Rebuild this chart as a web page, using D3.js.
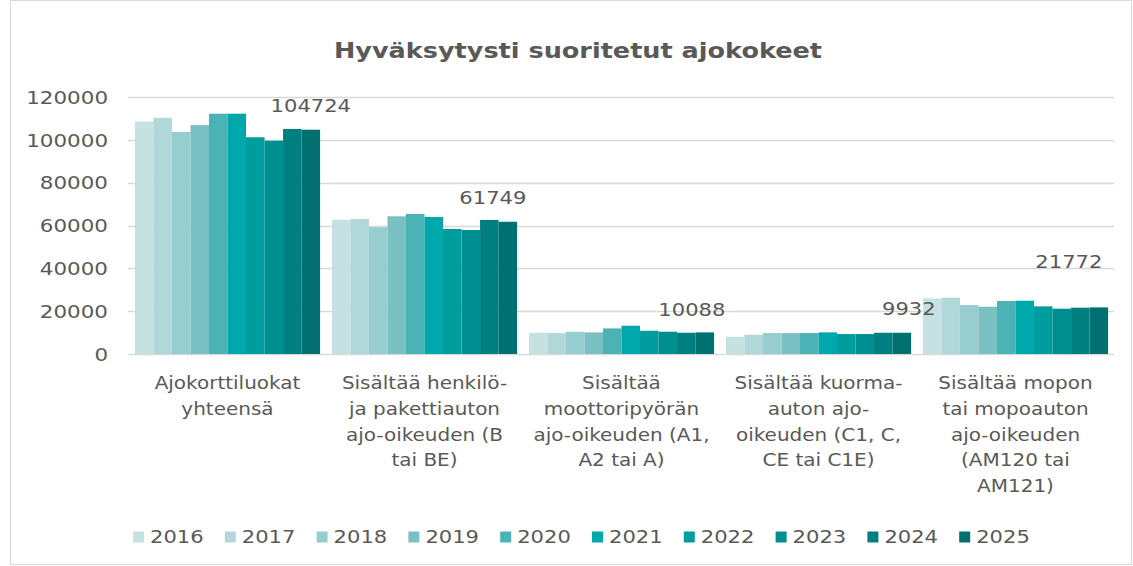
<!DOCTYPE html>
<html>
<head>
<meta charset="utf-8">
<script src="https://cdn.jsdelivr.net/npm/d3@7"></script>
<style>
  body { margin: 0; background: #fff; }
  text { font-family: Verdana, "DejaVu Sans", sans-serif; fill: #595959; }
</style>
</head>
<body>
<script>
// categories and wrapped label lines
var categories = ['Ajokorttiluokat yhteensä', 'Sisältää henkilö- ja pakettiauton ajo-oikeuden (B tai BE)',
  'Sisältää moottoripyörän ajo-oikeuden (A1, A2 tai A)', 'Sisältää kuorma-auton ajo-oikeuden (C1, C, CE tai C1E)',
  'Sisältää mopon tai mopoauton ajo-oikeuden (AM120 tai AM121)'];
var categoryLines = [
  ['Ajokorttiluokat', 'yhteensä'],
  ['Sisältää henkilö-', 'ja pakettiauton', 'ajo-oikeuden (B', 'tai BE)'],
  ['Sisältää', 'moottoripyörän', 'ajo-oikeuden (A1,', 'A2 tai A)'],
  ['Sisältää kuorma-', 'auton ajo-', 'oikeuden (C1, C,', 'CE tai C1E)'],
  ['Sisältää mopon', 'tai mopoauton', 'ajo-oikeuden', '(AM120 tai', 'AM121)']
];
var years = ['2016', '2017', '2018', '2019', '2020', '2021', '2022', '2023', '2024', '2025'];
var colors = ['#c6e1e1', '#b1d7d8', '#98cdcf', '#7bc1c4', '#4bb3b6', '#00a7ab', '#009d9f', '#008f91', '#007f80', '#007070'];

// values per category, one per year
var totals     = [108500, 110300, 103700, 106900, 112200, 112200, 101200, 99600, 105100, 104724];
var classB     = [62700, 63000, 59200, 64300, 65400, 64000, 58400, 57900, 62600, 61749];
var classA     = [9930, 9780, 10400, 10090, 11960, 13200, 10860, 10400, 9930, 10088];
var classC     = [8060, 9000, 9780, 9780, 9780, 10090, 9310, 9310, 9930, 9932];
var classAM    = [25980, 26290, 22860, 22080, 24730, 24890, 22240, 21150, 21620, 21772];
var seriesByCategory = [totals, classB, classA, classC, classAM];
var yTicks = [0, 20000, 40000, 60000, 80000, 100000, 120000];

var W = 1133, H = 566;
var svg = d3.select('body').append('svg').attr('width', W).attr('height', H);

// stretch text glyphs a little so the DejaVu fallback takes Verdana-like widths
function widen(sel, f) {
  sel.each(function() {
    var len = this.getComputedTextLength();
    d3.select(this).attr('textLength', len * f).attr('lengthAdjust', 'spacingAndGlyphs');
  });
}

svg.append('rect')
  .attr('x', 10.5).attr('y', 0.5).attr('width', W - 12).attr('height', H - 2)
  .attr('fill', 'none').attr('stroke', '#d9d9d9');

var x = d3.scaleBand().domain(categories).range([129, 1114]).paddingInner(0.06).paddingOuter(0.03);
var xi = d3.scaleBand().domain(years).range([0, x.bandwidth()]);
var y = d3.scaleLinear().domain([0, 120000]).range([354, 97]);

// gridlines
svg.append('g').selectAll('line').data(yTicks).join('line')
  .attr('x1', 128).attr('x2', 1114)
  .attr('y1', function(d) { return Math.round(y(d)) + 0.5; })
  .attr('y2', function(d) { return Math.round(y(d)) + 0.5; })
  .attr('stroke', '#d9d9d9').attr('stroke-width', 1.3);

var yAxis = svg.append('g').attr('transform', 'translate(108,0)')
  .call(d3.axisLeft(y).tickValues(yTicks).tickSize(0).tickPadding(0).tickFormat(d3.format('d')));
yAxis.select('.domain').remove();
yAxis.selectAll('text').style('font-size', '18px').attr('dy', '0.35em').call(widen, 1.19);

// bars
var groups = svg.append('g').selectAll('g').data(categories).join('g')
  .attr('transform', function(d) { return 'translate(' + x(d) + ',0)'; });

groups.selectAll('rect')
  .data(function(d, i) { return seriesByCategory[i].map(function(v, j) { return { year: years[j], value: v, j: j }; }); })
  .join('rect')
  .attr('x', function(d) { return xi(d.year); })
  .attr('width', xi.bandwidth())
  .attr('y', function(d) { return y(d.value); })
  .attr('height', function(d) { return y(0) - y(d.value); })
  .attr('fill', function(d) { return colors[d.j]; });

// data labels on the last year, with small nudges as in the original
var labelNudge = [[0, -24], [-15, -24], [-13, -23], [7, -24], [-30, -46]];
svg.append('g').selectAll('text').data(categories).join('text')
  .attr('x', function(d, i) { return x(d) + xi('2025') + xi.bandwidth() / 2 + labelNudge[i][0]; })
  .attr('y', function(d, i) { return y(seriesByCategory[i][9]) + labelNudge[i][1]; })
  .attr('dy', '0.35em')
  .attr('text-anchor', 'middle')
  .style('font-size', '18px')
  .text(function(d, i) { return seriesByCategory[i][9]; })
  .call(widen, 1.17);

// category labels
svg.append('g').selectAll('text').data(categories).join('text')
  .attr('text-anchor', 'middle')
  .attr('x', function(d) { return x(d) + x.bandwidth() / 2; })
  .attr('y', 383)
  .style('font-size', '18px')
  .each(function(d, i) {
    d3.select(this).selectAll('tspan').data(categoryLines[i]).join('tspan')
      .attr('x', x(d) + x.bandwidth() / 2)
      .attr('dy', function(t, k) { return k === 0 ? '0.35em' : '25.7px'; })
      .text(function(t) { return t; })
      .call(widen, 1.11);
  });

// title
svg.append('text')
  .attr('x', 578).attr('y', 50)
  .attr('text-anchor', 'middle')
  .attr('dy', '0.35em')
  .style('font-size', '22px').style('font-weight', 'bold')
  .text('Hyväksytysti suoritetut ajokokeet')
  .call(widen, 1.16);

// legend
var legend = svg.append('g').selectAll('g').data(years).join('g')
  .attr('transform', function(d, i) { return 'translate(' + (133 + i * 91.8) + ',537)'; });
legend.append('rect').attr('x', 0).attr('y', -5.5).attr('width', 11).attr('height', 11)
  .attr('fill', function(d, i) { return colors[i]; });
legend.append('text').attr('x', 17).attr('dy', '0.35em').style('font-size', '18px')
  .text(function(d) { return d; })
  .call(widen, 1.17);
</script>
</body>
</html>
